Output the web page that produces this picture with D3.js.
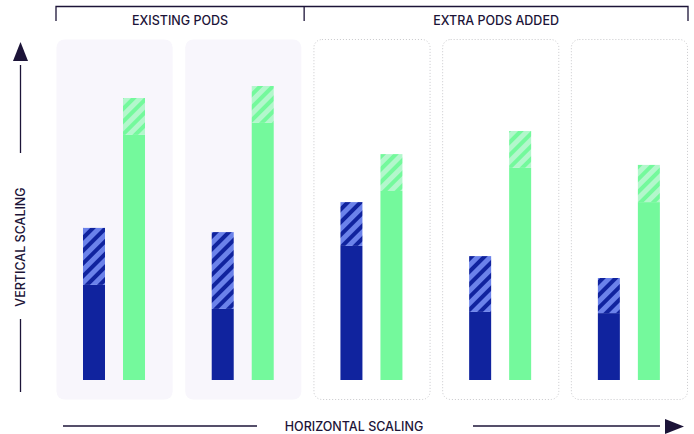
<!DOCTYPE html>
<html>
<head>
<meta charset="utf-8">
<script src="https://cdn.jsdelivr.net/npm/d3@7"></script>
<style>
  body { margin: 0; background: #fff; }
  svg { display: block; font-family: "Inter", "Noto Sans", sans-serif; }
</style>
</head>
<body>
<svg id="chart" width="694" height="434"></svg>
<script>
// pods (one panel each)
const pods = ['pod1', 'pod2', 'pod3', 'pod4', 'pod5'];
const podGroup = ['existing', 'existing', 'extra', 'extra', 'extra'];
// blue bars: used part + headroom (hatched)
const blueBase = [31.7, 23.7, 44.7, 22.7, 22.3];
const blueExtra = [19.0, 25.6, 14.6, 18.6, 11.7];
// green bars: used part + headroom (hatched)
const greenBase = [81.7, 85.7, 63.0, 70.7, 59.3];
const greenExtra = [12.3, 12.3, 12.3, 12.3, 12.4];
const groupLabels = ['EXISTING PODS', 'EXTRA PODS ADDED'];

const svg = d3.select('#chart');
const ink = '#1c1438';

// hatch patterns
const defs = svg.append('defs');
function hatch(id, bg, fg) {
  const p = defs.append('pattern')
    .attr('id', id)
    .attr('patternUnits', 'userSpaceOnUse')
    .attr('width', 9).attr('height', 9)
    .attr('patternTransform', 'rotate(45)');
  p.append('rect').attr('width', 9).attr('height', 9).attr('fill', bg);
  p.append('rect').attr('width', 4).attr('height', 9).attr('fill', fg);
}
hatch('hatchBlue', '#6b82ea', '#10239e');
hatch('hatchGreen', '#b3f7cc', '#74f99c');

// scales
const x = d3.scaleBand()
  .domain(pods)
  .range([56, 688])
  .paddingInner(0.09)
  .paddingOuter(0);
const y = d3.scaleLinear().domain([0, 100]).range([380, 80]);

const barW = 22;

// panels
svg.append('g').selectAll('rect')
  .data(pods)
  .join('rect')
  .attr('x', d => x(d) + 0.5)
  .attr('y', 39.5)
  .attr('width', x.bandwidth() - 1)
  .attr('height', 360)
  .attr('rx', 8)
  .attr('fill', (d, i) => podGroup[i] == 'existing' ? '#f8f6fc' : '#fff')
  .attr('stroke', (d, i) => podGroup[i] == 'existing' ? 'none' : '#c9c9cc')
  .attr('stroke-dasharray', '1,2');

// bars
const bars = svg.append('g');
pods.forEach((p, i) => {
  const bx = x(p) + 27;
  const gx = x(p) + 67;
  bars.append('rect')
    .attr('x', bx).attr('width', barW)
    .attr('y', y(blueBase[i])).attr('height', y(0) - y(blueBase[i]))
    .attr('fill', '#10239e');
  bars.append('rect')
    .attr('x', bx).attr('width', barW)
    .attr('y', y(blueBase[i] + blueExtra[i])).attr('height', y(blueBase[i]) - y(blueBase[i] + blueExtra[i]))
    .attr('fill', 'url(#hatchBlue)');
  bars.append('rect')
    .attr('x', gx).attr('width', barW)
    .attr('y', y(greenBase[i])).attr('height', y(0) - y(greenBase[i]))
    .attr('fill', '#74f99c');
  bars.append('rect')
    .attr('x', gx).attr('width', barW)
    .attr('y', y(greenBase[i] + greenExtra[i])).attr('height', y(greenBase[i]) - y(greenBase[i] + greenExtra[i]))
    .attr('fill', 'url(#hatchGreen)');
});

// group brackets on top
const left = x(pods[0]);
const mid = x(pods[2]) - (x.step() - x.bandwidth()) / 2 - 3.5;
const right = x(pods[4]) + x.bandwidth();
const br = svg.append('g').attr('stroke', ink).attr('stroke-width', 1.3).attr('fill', 'none');
br.append('path').attr('d', `M${left},21V6.5H${right}V21`);
br.append('path').attr('d', `M${mid},6.5V21`);

const label = (sel) => sel.attr('font-size', 12.5).attr('font-weight', 500).attr('fill', ink);

svg.append('text')
  .attr('x', (left + mid) / 2).attr('y', 25)
  .attr('text-anchor', 'middle')
  .call(label)
  .text(groupLabels[0]);
svg.append('text')
  .attr('x', (mid + right) / 2).attr('y', 25)
  .attr('text-anchor', 'middle')
  .call(label)
  .text(groupLabels[1]);

// vertical scaling arrow
svg.append('path').attr('d', 'M20.5,42L28,61H13Z').attr('fill', ink);
svg.append('line').attr('x1', 20.5).attr('x2', 20.5).attr('y1', 65).attr('y2', 153)
  .attr('stroke', ink).attr('stroke-width', 1.3);
svg.append('line').attr('x1', 20.5).attr('x2', 20.5).attr('y1', 319).attr('y2', 392)
  .attr('stroke', ink).attr('stroke-width', 1.3);
svg.append('text')
  .attr('transform', 'translate(25,247) rotate(-90)')
  .attr('text-anchor', 'middle')
  .call(label)
  .text('VERTICAL SCALING');

// horizontal scaling arrow
svg.append('line').attr('x1', 63).attr('x2', 257).attr('y1', 426).attr('y2', 426)
  .attr('stroke', ink).attr('stroke-width', 1.3);
svg.append('line').attr('x1', 473).attr('x2', 660).attr('y1', 426).attr('y2', 426)
  .attr('stroke', ink).attr('stroke-width', 1.3);
svg.append('path').attr('d', 'M684,426.5L665,419V434Z').attr('fill', ink);
svg.append('text')
  .attr('x', 354).attr('y', 431)
  .attr('text-anchor', 'middle')
  .call(label)
  .text('HORIZONTAL SCALING');
</script>
</body>
</html>
